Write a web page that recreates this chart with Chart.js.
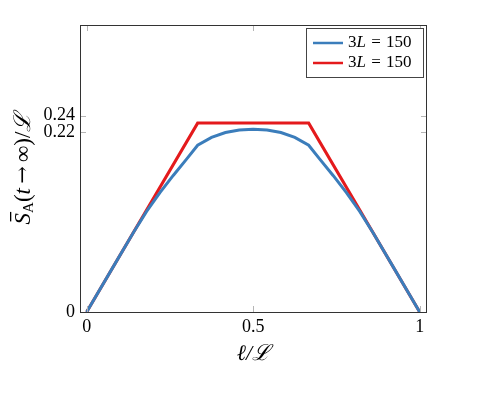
<!DOCTYPE html>
<html>
<head>
<meta charset="utf-8">
<script src="https://cdn.jsdelivr.net/npm/chart.js@4.4.1/dist/chart.umd.min.js"></script>
<style>
  html, body { margin: 0; background: #fff; }
  #wrap { width: 488px; height: 394px; }
</style>
</head>
<body>
<div id="wrap"><canvas id="grafico"></canvas></div>
<script>
// dados
const xAzul = [0, 0.08, 0.14, 0.18, 0.22, 0.26, 0.30, 0.3333, 0.375, 0.4167, 0.4583, 0.5, 0.5417, 0.5833, 0.625, 0.6667, 0.70, 0.74, 0.78, 0.82, 0.86, 0.92, 1];
const yAzul = [0, 0.0555, 0.097, 0.123, 0.146, 0.167, 0.187, 0.204, 0.2135, 0.2195, 0.2226, 0.2236, 0.2226, 0.2195, 0.2135, 0.204, 0.187, 0.167, 0.146, 0.123, 0.097, 0.0555, 0];
const xVermelho = [0, 0.3333, 0.6667, 1];
const yVermelho = [0, 0.231, 0.231, 0];
const rotulos = ['3L = 150', '3L = 150'];
const ticksX = [0, 0.5, 1];
const ticksY = [0, 0.22, 0.24];

const SERIF = "'Liberation Serif', 'DejaVu Serif', serif";

function pontos(xs, ys) {
  return xs.map((v, i) => ({ x: v, y: ys[i] }));
}

// texto com letras em itálico (estilo matemático)
function textoMat(ctx, txt, x, y, size) {
  let px = x;
  txt.split('').forEach(c => {
    const it = /[A-Za-z]/.test(c);
    ctx.font = (it ? 'italic ' : '') + size + 'px ' + SERIF;
    ctx.fillText(c, px, y);
    px += ctx.measureText(c).width + (c === ' ' ? 1 : 0);
  });
}

const moldura = {
  id: 'moldura',
  afterDraw(chart) {
    const { ctx, chartArea: a, scales: { x, y } } = chart;
    ctx.save();

    // marcas dos ticks (para dentro)
    ctx.strokeStyle = '#b5b5b5';
    ctx.lineWidth = 1;
    ctx.beginPath();
    ticksX.forEach(v => {
      const px = Math.round(x.getPixelForValue(v)) + 0.5;
      ctx.moveTo(px, a.bottom); ctx.lineTo(px, a.bottom - 6);
      ctx.moveTo(px, a.top); ctx.lineTo(px, a.top + 6);
    });
    ticksY.forEach(v => {
      const py = Math.round(y.getPixelForValue(v)) + 0.5;
      ctx.moveTo(a.left, py); ctx.lineTo(a.left + 6, py);
      ctx.moveTo(a.right, py); ctx.lineTo(a.right - 6, py);
    });
    ctx.stroke();

    // moldura
    ctx.strokeStyle = '#333';
    ctx.strokeRect(a.left + 0.5, a.top + 0.5, a.right - a.left - 1, a.bottom - a.top);

    // legenda
    const lx = a.right - 121, ly = a.top + 3, lw = 117, lh = 49;
    ctx.fillStyle = '#fff';
    ctx.fillRect(lx, ly, lw, lh);
    ctx.strokeStyle = '#444';
    ctx.strokeRect(lx + 0.5, ly + 0.5, lw, lh);
    ctx.textBaseline = 'middle';
    ctx.textAlign = 'left';
    chart.data.datasets.forEach((ds, i) => {
      const yy = ly + 15 + i * 20;
      ctx.strokeStyle = ds.borderColor;
      ctx.lineWidth = 2.5;
      ctx.beginPath();
      ctx.moveTo(lx + 7, yy); ctx.lineTo(lx + 37, yy);
      ctx.stroke();
      ctx.fillStyle = '#000';
      textoMat(ctx, ds.label, lx + 42, yy, 17);
    });

    // título do eixo x
    ctx.fillStyle = '#000';
    ctx.textAlign = 'center';
    ctx.font = 'italic 22px ' + SERIF;
    ctx.fillText('ℓ/ℒ', (a.left + a.right) / 2, a.bottom + 42);

    // título do eixo y
    ctx.translate(24, (a.top + a.bottom) / 2);
    ctx.rotate(-Math.PI / 2);
    ctx.textAlign = 'left';
    const seg = [
      { t: 'S', f: 'italic 23px ' + SERIF, dy: 0 },
      { t: 'A', f: '15px ' + SERIF, dy: 5 },
      { t: '(', f: '23px ' + SERIF, dy: 0 },
      { t: 't', f: 'italic 23px ' + SERIF, dy: 0 },
      { t: '\u2009→\u2009', f: "21px 'DejaVu Serif'", dy: 0 },
      { t: '∞)/', f: '23px ' + SERIF, dy: 0 },
      { t: 'ℒ', f: 'italic 23px ' + SERIF, dy: 0 }
    ];
    let total = 0;
    seg.forEach(s => { ctx.font = s.f; s.w = ctx.measureText(s.t).width; total += s.w; });
    let px = -total / 2;
    seg.forEach((s, i) => {
      ctx.font = s.f;
      ctx.fillText(s.t, px, s.dy);
      if (i === 0) {
        ctx.fillRect(px + 3, -14, s.w - 2, 1.3);
      }
      px += s.w;
    });
    ctx.restore();
  }
};

new Chart(document.getElementById('grafico'), {
  type: 'scatter',
  data: {
    datasets: [
      {
        label: rotulos[0],
        data: pontos(xAzul, yAzul),
        showLine: true,
        borderColor: '#3b7dbb',
        borderWidth: 3,
        pointRadius: 0,
        tension: 0,
        clip: false
      },
      {
        label: rotulos[1],
        data: pontos(xVermelho, yVermelho),
        showLine: true,
        borderColor: '#e41a1c',
        borderWidth: 3,
        pointRadius: 0,
        tension: 0,
        clip: false
      }
    ]
  },
  options: {
    responsive: true,
    maintainAspectRatio: false,
    animation: false,
    layout: { padding: { left: 0, right: 61, top: 25, bottom: 0 } },
    plugins: { legend: { display: false }, tooltip: { enabled: false } },
    scales: {
      x: {
        type: 'linear',
        min: -0.02,
        max: 1.022,
        grid: { display: false, drawTicks: false },
        border: { display: false },
        afterBuildTicks: s => { s.ticks = ticksX.map(v => ({ value: v })); },
        afterFit: s => { s.height = 82; },
        ticks: {
          padding: 4,
          color: '#000',
          font: { family: SERIF, size: 18 },
          callback: v => String(v)
        }
      },
      y: {
        type: 'linear',
        min: 0,
        max: 0.351,
        grid: { display: false, drawTicks: false },
        border: { display: false },
        afterBuildTicks: s => { s.ticks = ticksY.map(v => ({ value: v })); },
        afterFit: s => { s.width = 80; },
        ticks: {
          padding: 5,
          color: '#000',
          font: { family: SERIF, size: 18 },
          callback: v => String(v)
        }
      }
    }
  },
  plugins: [moldura]
});
</script>
</body>
</html>
